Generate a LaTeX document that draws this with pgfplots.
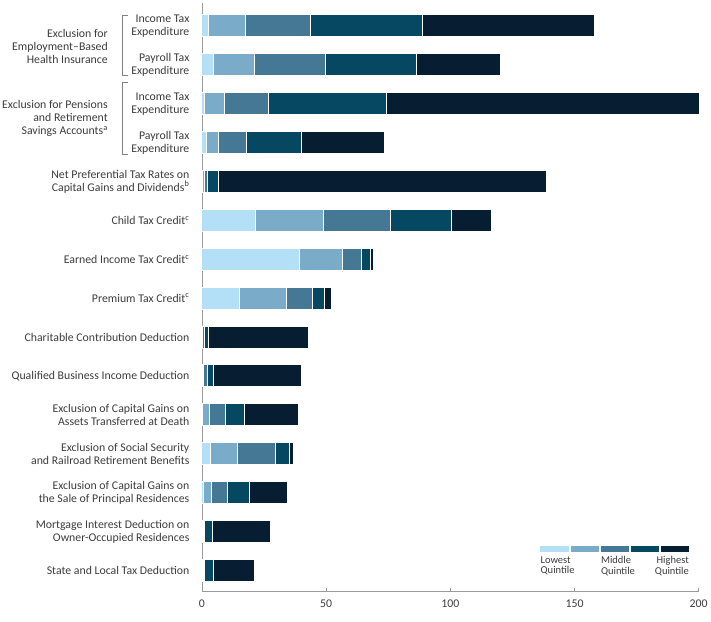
\documentclass[border=0pt]{standalone}
\usepackage{pgfplots}
\pgfplotsset{compat=1.18}
\usepackage{pgfplotstable}
\usepackage{fontspec}
\setmainfont{Carlito}

\definecolor{qone}{HTML}{B3E0F6}
\definecolor{qtwo}{HTML}{7AACC9}
\definecolor{qthree}{HTML}{447894}
\definecolor{qfour}{HTML}{064862}
\definecolor{qfive}{HTML}{071D31}
\definecolor{txt}{HTML}{3C3C3C}
\definecolor{axgray}{HTML}{9A9A9A}

% rows from top (14) to bottom (0), values in billions of dollars by quintile
\pgfplotstableread{
row q1 q2 q3 q4 q5
14 2.8 14.8 25.9 45.1 69.3
13 4.5 16.7 28.4 36.6 34.1
12 1.1 7.8 17.8 47.6 126.0
11 1.9 4.9 11.2 22.2 33.2
10 0.2 0.7 1.2 4.7 131.9
9 21.6 27.5 26.8 24.6 16.2
8 39.2 17.4 7.5 3.6 1.5
7 15.2 18.7 10.4 5.2 2.7
6 0.1 0.3 0.5 1.9 40.1
5 0.2 0.5 1.5 2.3 35.7
4 0.3 2.6 6.6 7.5 21.8
3 3.6 10.8 15.4 5.6 1.5
2 0.6 3.3 6.3 9.1 15.2
1 0.2 0.3 0.4 3.4 23.2
0 0.2 0.3 0.5 3.5 16.5
}\expdata

\begin{document}
\begin{tikzpicture}[font=\fontsize{11.8}{13}\selectfont]
\begin{axis}[
    scale only axis,
    width=497pt, height=589pt,
    xbar stacked, bar width=22pt,
    xmin=0, xmax=200, ymin=-0.55, ymax=14.59,
    axis x line=bottom, axis y line=left,
    axis line style={-, draw=axgray, line width=0.8pt},
    xtick={0,50,100,150,200},
    tick align=inside, major tick length=4pt,
    xtick style={draw=axgray, line width=0.6pt},
    xticklabel style={text=txt, yshift=-5pt},
    /pgf/number format/assume math mode=true,
    ytick={0,...,14},
    ytick style={draw=none},
    yticklabel style={align=right, text=txt, xshift=-9pt},
    yticklabels={
        State and Local Tax Deduction,
        {Mortgage Interest Deduction on\\Owner-Occupied Residences},
        {Exclusion of Capital Gains on\\the Sale of Principal Residences},
        {Exclusion of Social Security\\and Railroad Retirement Benefits},
        {Exclusion of Capital Gains on\\Assets Transferred at Death},
        Qualified Business Income Deduction,
        Charitable Contribution Deduction,
        {Premium Tax Credit\textsuperscript{c}},
        {Earned Income Tax Credit\textsuperscript{c}},
        {Child Tax Credit\textsuperscript{c}},
        {Net Preferential Tax Rates on\\Capital Gains and Dividends\textsuperscript{b}},
        {Payroll Tax\\Expenditure},
        {Income Tax\\Expenditure},
        {Payroll Tax\\Expenditure},
        {Income Tax\\Expenditure}
    },
    every axis plot/.append style={draw=white, line width=0.9pt},
    clip=false,
]
\addplot[fill=qone] table[x=q1, y=row] {\expdata};
\addplot[fill=qtwo] table[x=q2, y=row] {\expdata};
\addplot[fill=qthree] table[x=q3, y=row] {\expdata};
\addplot[fill=qfour] table[x=q4, y=row] {\expdata};
\addplot[fill=qfive] table[x=q5, y=row] {\expdata};

\coordinate (bl) at (axis cs:0,-0.55);

% group labels with brackets
\node[anchor=east, align=right, inner sep=0pt, text=txt]
    at ([xshift=-94pt]axis cs:0,13.46)
    {Exclusion for\\Employment--Based\\Health Insurance};
\node[anchor=east, align=right, inner sep=0pt, text=txt]
    at ([xshift=-94pt]axis cs:0,11.61)
    {Exclusion for Pensions\\and Retirement\\Savings Accounts\textsuperscript{a}};
\draw[gray, line width=0.9pt]
    ([xshift=-74pt]axis cs:0,14.26) -- ([xshift=-79pt]axis cs:0,14.26)
    -- ([xshift=-79pt]axis cs:0,12.715) -- ([xshift=-74pt]axis cs:0,12.715);
\draw[gray, line width=0.9pt]
    ([xshift=-74pt]axis cs:0,12.535) -- ([xshift=-79pt]axis cs:0,12.535)
    -- ([xshift=-79pt]axis cs:0,10.684) -- ([xshift=-74pt]axis cs:0,10.684);

% legend swatches
\fill[qone]   (axis cs:136.3,0.46) rectangle (axis cs:147.8,0.63);
\fill[qtwo]   (axis cs:148.5,0.46) rectangle (axis cs:159.8,0.63);
\fill[qthree] (axis cs:160.6,0.46) rectangle (axis cs:171.9,0.63);
\fill[qfour]  (axis cs:172.6,0.46) rectangle (axis cs:184.0,0.63);
\fill[qfive]  (axis cs:184.7,0.46) rectangle (axis cs:196.1,0.63);
\node[anchor=north west, align=left, inner sep=0pt, text=txt,
      font=\fontsize{10.5}{10.5}\selectfont] at (axis cs:136.3,0.36) {Lowest\\Quintile};
\node[anchor=north west, align=left, inner sep=0pt, text=txt,
      font=\fontsize{10.5}{10.5}\selectfont] at (axis cs:160.6,0.36) {Middle\\Quintile};
\node[anchor=north east, align=right, inner sep=0pt, text=txt,
      font=\fontsize{10.5}{10.5}\selectfont] at (axis cs:196.1,0.36) {Highest\\Quintile};
\end{axis}
\path[use as bounding box] ([shift={(-202pt,-30pt)}]bl) rectangle ([shift={(509pt,592pt)}]bl);
\end{tikzpicture}
\end{document}
